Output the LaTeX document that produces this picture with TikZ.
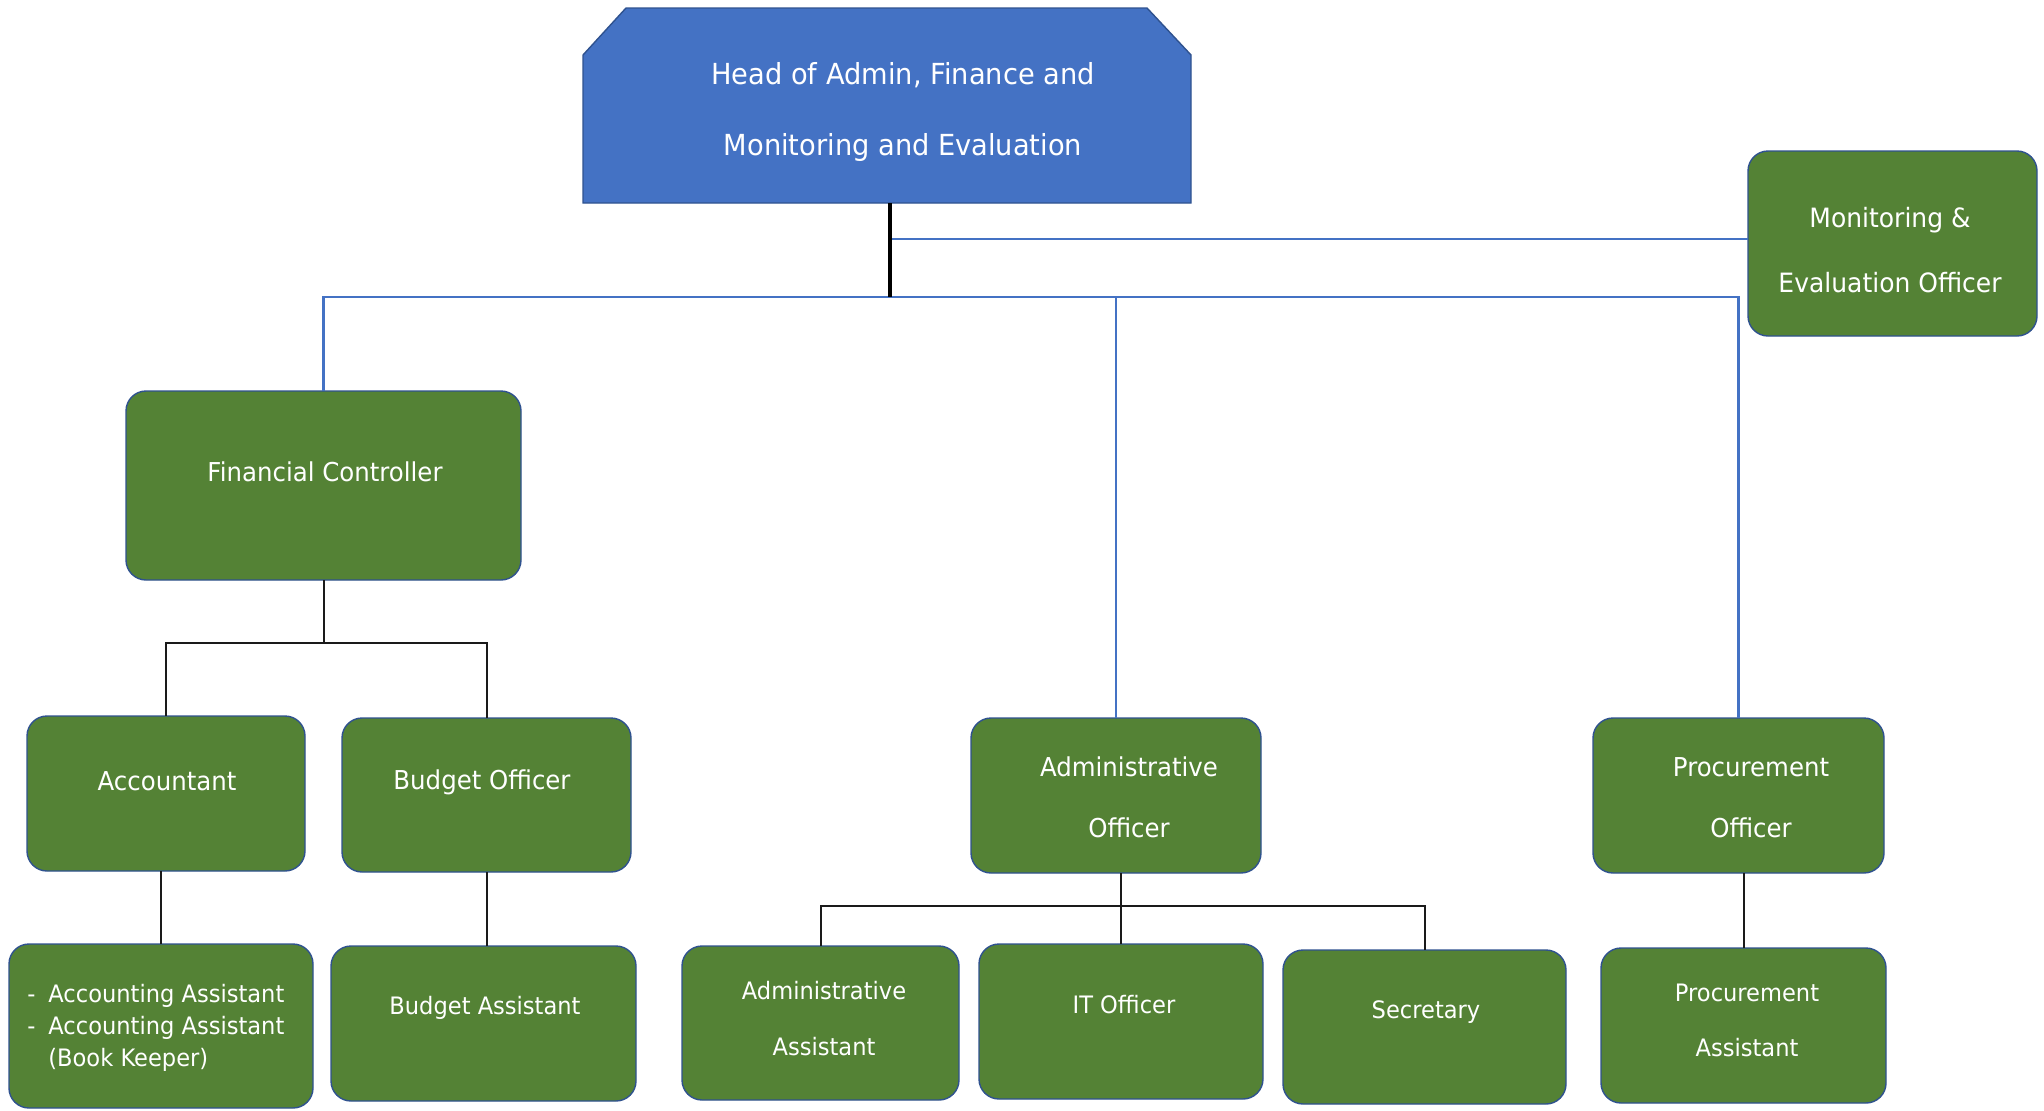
\documentclass[tikz,border=0pt]{standalone}
\usepackage{fontspec}
\setmainfont{DejaVu Sans}[FakeStretch=0.94]
\definecolor{boxgreen}{HTML}{548235}
\definecolor{headblue}{HTML}{4472C4}
\definecolor{edgeblue}{HTML}{2F528F}
\definecolor{lineblue}{HTML}{4472C4}
\definecolor{lineblack}{HTML}{1A1A1A}
\begin{document}
\begin{tikzpicture}[x=0.5pt,y=-0.5pt,
  box/.style={draw=edgeblue,fill=boxgreen,line width=0.7pt,rounded corners=10pt,inner sep=0pt,outer sep=0pt},
  ghost/.style={inner sep=0pt,outer sep=0pt},
  txt/.style={text=white,align=center,inner sep=0pt},
  mid/.style={font=\fontsize{13pt}{30.5pt}\selectfont},
  low/.style={font=\fontsize{12pt}{28pt}\selectfont},
  blueline/.style={draw=lineblue,line width=1.4pt},
  blackline/.style={draw=lineblack,line width=1pt}]
\useasboundingbox (0,0) rectangle (2044,1110);

% head
\fill[headblue,draw=edgeblue,line width=0.7pt] (583,55) -- (626,8) -- (1147,8) -- (1191,55) -- (1191,203) -- (583,203) -- cycle;
\node[ghost,minimum width=304pt,minimum height=97.5pt] (head) at (887,105.5) {};
\node[txt,font=\fontsize{14.5pt}{35.5pt}\selectfont] (head-t) at (903,111.5) {Head of Admin, Finance and\\Monitoring and Evaluation};

% boxes
\node[box,minimum width=144.5pt,minimum height=92.5pt] (mne) at (1892.5,243.5) {};
\node[txt,font=\fontsize{13.3pt}{32.5pt}\selectfont] (mne-t) at (1890,250.5) {Monitoring \&\\Evaluation Officer};

\node[box,minimum width=197.5pt,minimum height=94.5pt] (fc) at (323.5,485.5) {};
\node[txt,mid] (fc-t) at (325,472) {Financial Controller};

\node[box,minimum width=139pt,minimum height=77.5pt] (acc) at (166,793.5) {};
\node[txt,mid] (acc-t) at (167,781) {Accountant};

\node[box,minimum width=144.5pt,minimum height=77pt] (bo) at (486.5,795) {};
\node[txt,mid] (bo-t) at (482,782) {Budget Officer};

\node[box,minimum width=145pt,minimum height=77.5pt] (ao) at (1116,795.5) {};
\node[txt,mid] (ao-t) at (1129,797.5) {Administrative\\Officer};

\node[box,minimum width=145.5pt,minimum height=77.5pt] (po) at (1738.5,795.5) {};
\node[txt,mid] (po-t) at (1751,797.5) {Procurement\\Officer};

\node[box,minimum width=152pt,minimum height=82pt] (accasst) at (161,1026) {};
\node[txt,align=left,anchor=west,font=\fontsize{12pt}{16pt}\selectfont] (accasst-t) at (27,1028)
  {\makebox[10.5pt][l]{-}Accounting Assistant\\\makebox[10.5pt][l]{-}Accounting Assistant\\\hspace*{10.5pt}(Book Keeper)};

\node[box,minimum width=152.5pt,minimum height=77.5pt] (ba) at (483.5,1023.5) {};
\node[txt,low] (ba-t) at (485,1008) {Budget Assistant};

\node[box,minimum width=138.5pt,minimum height=77pt] (aa) at (820.5,1023) {};
\node[txt,low] (aa-t) at (824,1019) {Administrative\\Assistant};

\node[box,minimum width=142pt,minimum height=77.5pt] (it) at (1121,1021.5) {};
\node[txt,low] (it-t) at (1124,1005) {IT Officer};

\node[box,minimum width=141.5pt,minimum height=77pt] (sec) at (1424.5,1027) {};
\node[txt,low] (sec-t) at (1426,1012) {Secretary};

\node[box,minimum width=142.5pt,minimum height=77.5pt] (pa) at (1743.5,1025.5) {};
\node[txt,font=\fontsize{12pt}{27.5pt}\selectfont] (pa-t) at (1747,1020.5) {Procurement\\Assistant};

% bus coordinates
\coordinate (topbus) at (890,297);
\coordinate (fcbus) at (0,643);
\coordinate (aobus) at (0,906);

% connectors
\draw[blueline] (head.south -| topbus) ++(0,36) coordinate (mnejoin) -- (mnejoin -| mne.west);
\draw[blueline] (fc.north) -- (fc.north |- topbus) -- (po.north |- topbus) -- (po.north);
\draw[blueline] (ao.north) -- (ao.north |- topbus);
\draw[draw=black,line width=1.6pt] (head.south -| topbus) -- (topbus);

\draw[blackline] (fc.south) -- (fc.south |- fcbus);
\draw[blackline] (acc.north) -- (acc.north |- fcbus) -- (bo.north |- fcbus) -- (bo.north);
\draw[blackline] (accasst.north) -- (accasst.north |- acc.south);
\draw[blackline] (bo.south) -- (bo.south |- ba.north);

\draw[blackline] (it.north) -- (it.north |- ao.south);
\draw[blackline] (aa.north) -- (aa.north |- aobus) -- (sec.north |- aobus) -- (sec.north);
\draw[blackline] (pa.north) -- (pa.north |- po.south);
\end{tikzpicture}
\end{document}
